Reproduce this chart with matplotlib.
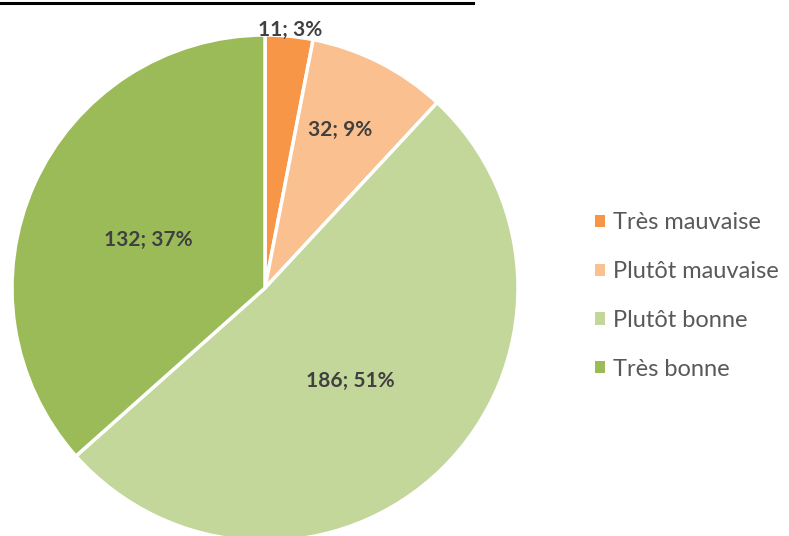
import numpy as np
import matplotlib.pyplot as plt
from matplotlib.lines import Line2D
from matplotlib.patches import Patch

# data
categories = ["Très mauvaise", "Plutôt mauvaise", "Plutôt bonne", "Très bonne"]
counts = [11, 32, 186, 132]
percents = [3, 9, 51, 37]
colors = ["#F79646", "#FAC090", "#C4D79B", "#9BBB59"]

plt.rcParams["font.family"] = ["Lato", "DejaVu Sans"]

W, H = 789, 536
fig = plt.figure(figsize=(W / 100, H / 100), dpi=100)

# pie centre and radius in pixels
cx, cy, r = 265, 288, 253
ax = fig.add_axes([(cx - r) / W, (H - cy - r) / H, 2 * r / W, 2 * r / H])

wedges, _ = ax.pie(
    counts,
    colors=colors,
    startangle=90,
    counterclock=False,
    radius=1.0,
    wedgeprops=dict(edgecolor="white", linewidth=2.5),
)
ax.set_xlim(-1, 1)
ax.set_ylim(-1, 1)
ax.set_aspect("equal")
ax.axis("off")

# data labels "n; p%"
label_dist = [1.025, 0.69, 0.50, 0.50]
angle_shift = [0, 1.5, -2, 2]
for w, n, p, d, s in zip(wedges, counts, percents, label_dist, angle_shift):
    ang = np.deg2rad((w.theta1 + w.theta2) / 2 + s)
    ax.text(d * np.cos(ang), d * np.sin(ang), f"{n}; {p}%",
            ha="center", va="center", fontsize=15, fontweight="bold",
            color="#404040", clip_on=False)

# legend
handles = [Patch(facecolor=c, edgecolor="none") for c in colors]
fig.legend(handles, categories, loc="center left",
           bbox_to_anchor=(595 / W, 1 - 296 / H), frameon=False,
           borderpad=0, borderaxespad=0,
           fontsize=17, labelcolor="#595959", handlelength=0.42,
           handleheight=0.42, handletextpad=0.35, labelspacing=1.18)

# underline of the cut-off title at the top
fig.add_artist(Line2D([0, 473 / W], [1 - 3 / H, 1 - 3 / H],
                      color="black", linewidth=2.2,
                      transform=fig.transFigure))

fig.savefig("out.png", dpi=100, facecolor="white")
